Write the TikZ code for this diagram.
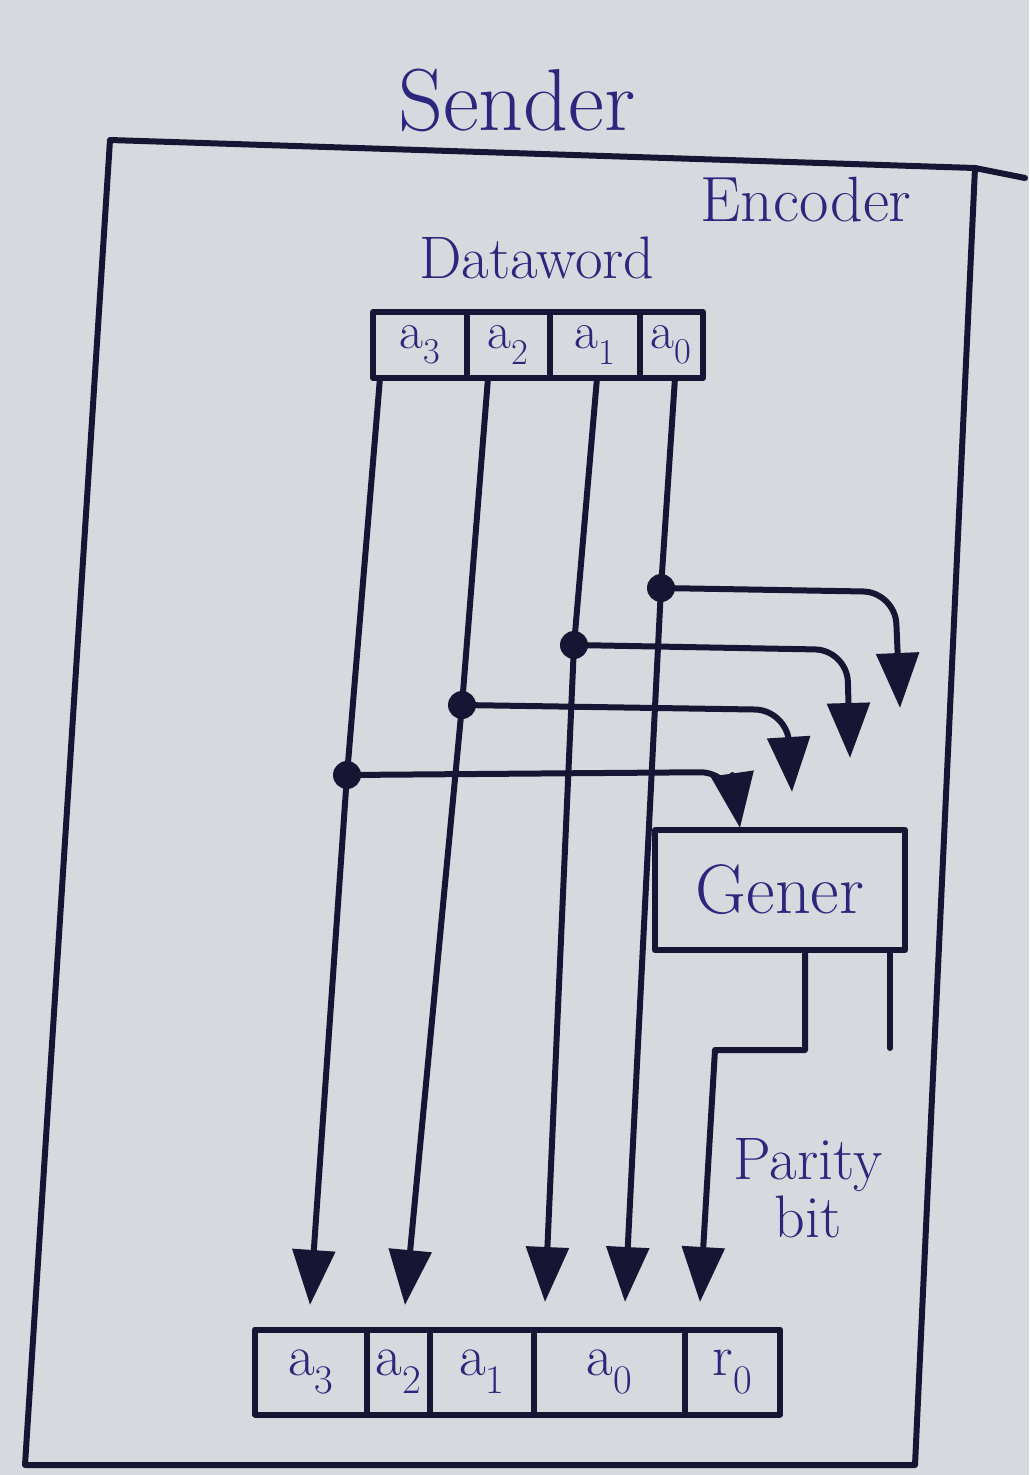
\documentclass[tikz,border=0pt]{standalone}
\usepackage{fontspec}
\usetikzlibrary{arrows.meta,positioning}
\definecolor{paper}{RGB}{214,217,222}
\definecolor{ink}{RGB}{44,38,125}
\definecolor{pen}{RGB}{22,22,52}
\begin{document}
\begin{tikzpicture}[x=1pt, y=-1pt, line join=round, line cap=round,
	wire/.style={line width=6pt, color=pen},
	tip/.style={-{Triangle[length=55pt, width=42pt]}},
	lbl/.style={text=ink, inner sep=0pt},
	cell/.style={draw=pen, line width=6pt, outer sep=0pt, inner sep=0pt, text=ink},
	topcell/.style={cell, minimum height=66pt, font=\fontsize{52}{54}\selectfont},
	botcell/.style={cell, minimum height=85pt, font=\fontsize{58}{60}\selectfont}]
	\fill[paper] (0,0) rectangle (1029,1475);
	\useasboundingbox (0,0) rectangle (1029,1475);
	% frame of the encoder
	\coordinate (fa) at (110,140);
	\coordinate (fb) at (975,168);
	\coordinate (fc) at (915,1465);
	\coordinate (fd) at (25,1465);
	\draw[wire] (fa) -- (fb) -- (fc) -- (fd) -- cycle;
	\draw[wire] (fb) -- (1025,178);
	\node[lbl, font=\fontsize{88}{90}\selectfont] (sender) at (517,100) {Sender};
	\node[lbl, font=\fontsize{64}{66}\selectfont] (encoder) at (806,200) {Encoder};
	\node[lbl, font=\fontsize{60}{62}\selectfont] (dataword) at (537,258) {Dataword};
	% dataword register
	\node[topcell, minimum width=94pt] (d3) at (420,345) {a\textsubscript{3}};
	\node[topcell, minimum width=83pt, right=0pt of d3] (d2) {a\textsubscript{2}};
	\node[topcell, minimum width=90pt, right=0pt of d2] (d1) {a\textsubscript{1}};
	\node[topcell, minimum width=63pt, right=0pt of d1] (d0) {a\textsubscript{0}};
	% codeword register
	\node[botcell, minimum width=112pt] (c3) at (311,1372) {a\textsubscript{3}};
	\node[botcell, minimum width=63pt, right=0pt of c3] (c2) {a\textsubscript{2}};
	\node[botcell, minimum width=104pt, right=0pt of c2] (c1) {a\textsubscript{1}};
	\node[botcell, minimum width=151pt, right=0pt of c1] (c0) {a\textsubscript{0}};
	\node[botcell, minimum width=95pt, right=0pt of c0] (r0) {r\textsubscript{0}};
	% generator
	\node[cell, minimum width=250pt, minimum height=120pt, font=\fontsize{70}{72}\selectfont] (gen) at (780,890) {Gener};
	\node[lbl, align=center, font=\fontsize{60}{58}\selectfont] (parity) at (808,1188) {Parity\\bit};
	\coordinate (s3) at (380,378);
	\coordinate (s2) at (488,378);
	\coordinate (s1) at (597,378);
	\coordinate (s0) at (675,378);
	\coordinate (j3) at (347,775);
	\coordinate (j2) at (462,705);
	\coordinate (j1) at (574,645);
	\coordinate (j0) at (661,588);
	\coordinate (e3) at (310,1305);
	\coordinate (e2) at (405,1305);
	\coordinate (e1) at (545,1302);
	\coordinate (e0) at (625,1302);
	\coordinate (er) at (700,1302);
	\draw[wire, tip] (s3) -- (j3) -- (e3);
	\draw[wire, tip] (s2) -- (j2) -- (e2);
	\draw[wire, tip] (s1) -- (j1) -- (e1);
	\draw[wire, tip] (s0) -- (j0) -- (e0);
	\draw[wire, tip, rounded corners=32pt] (j0) -- (895,592) -- (900,708);
	\draw[wire, tip, rounded corners=32pt] (j1) -- (847,650) -- (850,758);
	\draw[wire, tip, rounded corners=32pt] (j2) -- (787,710) -- (792,792);
	\draw[wire, tip, rounded corners=32pt] (j3) -- (732,772) -- (740,828);
	\fill[pen] (j3) circle (14pt) (j2) circle (14pt) (j1) circle (14pt) (j0) circle (14pt);
	% parity bit out of the generator
	\coordinate (p0) at (805,950);
	\coordinate (p1) at (805,1050);
	\coordinate (p2) at (715,1050);
	\coordinate (q0) at (890,950);
	\coordinate (q1) at (890,1048);
	\draw[wire, tip] (p0) -- (p1) -- (p2) -- (er);
	\draw[wire] (q0) -- (q1);
\end{tikzpicture}
\end{document}
